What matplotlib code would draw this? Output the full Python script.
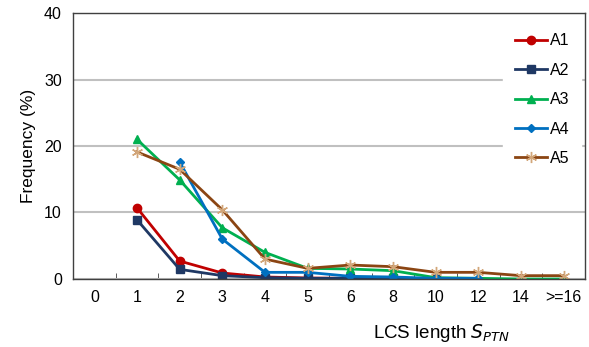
import numpy as np
import matplotlib.pyplot as plt

plt.rcParams['font.family'] = ['Liberation Sans', 'DejaVu Sans']

# categories on the x axis
lengths = ['0', '1', '2', '3', '4', '5', '6', '8', '10', '12', '14', '>=16']

# frequency (%) per series, None where there is no point
a1 = [None, 10.7, 2.7, 0.9, 0.3, 0.15, 0.1, 0.05, 0.0, None, None, None]
a2 = [None, 8.9, 1.45, 0.5, 0.2, 0.1, 0.1, 0.1, 0.0, None, None, None]
a3 = [None, 21.0, 14.9, 7.7, 4.0, 1.6, 1.5, 1.25, 0.2, 0.1, 0.0, 0.0]
a4 = [None, None, 17.6, 6.0, 1.0, 1.0, 0.4, 0.3, 0.1, 0.1, None, None]
a5 = [None, 19.1, 16.5, 10.4, 3.0, 1.6, 2.1, 1.85, 1.0, 1.0, 0.5, 0.5]

series = [('A1', a1, '#c00000', 'o'),
          ('A2', a2, '#1f3864', 's'),
          ('A3', a3, '#00b050', '^'),
          ('A4', a4, '#0070c0', 'D'),
          ('A5', a5, '#8b4513', 'x')]

fig = plt.figure(figsize=(5.89, 3.47), dpi=100)
ax = fig.add_axes([0.124, 0.196, 0.869, 0.7665])

x = np.arange(len(lengths))
for name, vals, col, mk in series:
    v = np.array([np.nan if val is None else val for val in vals], dtype=float)
    ms = 4 if mk == 'D' else 6
    if mk == 'x':
        ax.plot(x, v, color=col, lw=2, marker=(6, 2, 0), ms=8, mew=1,
                mec='#d2a679', label=name)
    else:
        ax.plot(x, v, color=col, lw=2, marker=mk, ms=ms, label=name)

ax.set_xlim(-0.5, len(lengths) - 0.5)
ax.set_ylim(0, 40)
ax.set_yticks([0, 10, 20, 30, 40])
ax.set_xticks(x)
ax.set_xticklabels(lengths)
ax.set_xticks(np.arange(len(lengths) + 1) - 0.5, minor=True)
ax.tick_params(axis='x', which='major', length=0, pad=8, labelsize=11.5)
ax.tick_params(axis='x', which='minor', direction='in', length=4, color='#404040')
ax.tick_params(axis='y', length=0, pad=8, labelsize=11.5)
ax.grid(axis='y', color='#c0c0c0', lw=1.5)
ax.set_axisbelow(True)
for s in ax.spines.values():
    s.set_color('#404040')
    s.set_linewidth(1)

ax.set_ylabel('Frequency (%)', fontsize=12.5, labelpad=6)
ax.set_xlabel('LCS length $S_{PTN}$', fontsize=13.5)
ax.xaxis.set_label_coords(0.72, -0.16)

leg = ax.legend(loc='upper right', bbox_to_anchor=(0.984, 0.95), frameon=True,
                fontsize=11.5, handlelength=2.0, handletextpad=0.2,
                labelspacing=0.9, borderpad=0.45, borderaxespad=0)
leg.get_frame().set_edgecolor('white')
leg.get_frame().set_facecolor('white')
leg.get_frame().set_alpha(1)
leg.get_frame().set_boxstyle('square', pad=0.3)

fig.savefig('out.png', dpi=100)
